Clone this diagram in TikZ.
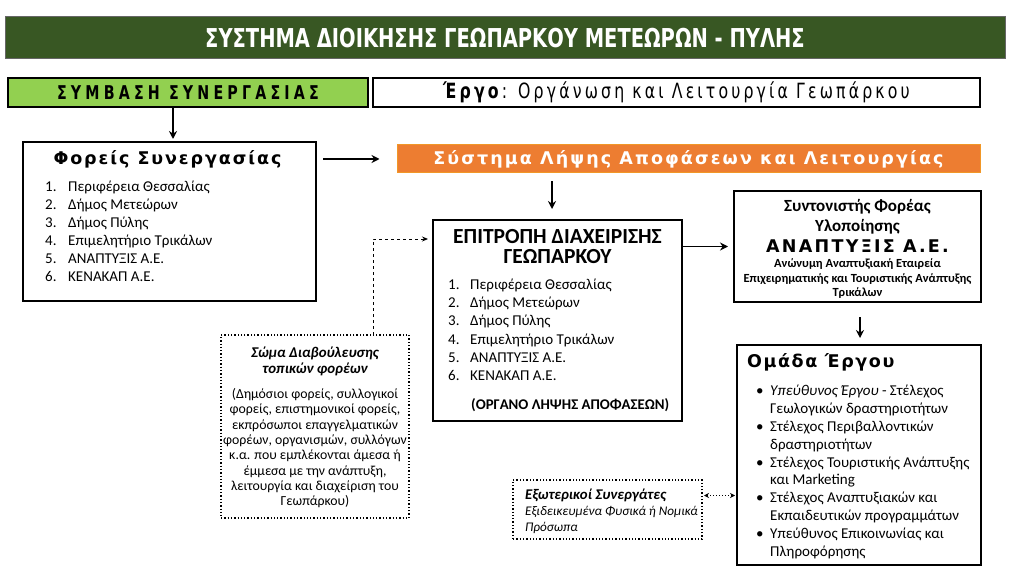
\documentclass[tikz,border=0pt]{standalone}
\usepackage{fontspec}
\setmainfont{Carlito}
\newfontfamily\headfont[LetterSpace=11]{DejaVu Sans}
\newfontfamily\condfont[FakeStretch=0.75]{DejaVu Sans}
\usetikzlibrary{arrows.meta}
\definecolor{darkgreen}{RGB}{56,87,35}
\definecolor{lightgreen}{RGB}{146,208,80}
\definecolor{orangebar}{RGB}{237,125,49}
\begin{document}
\begin{tikzpicture}[x=1pt,y=-1pt,
  box/.style={draw=black,line width=1.4pt,inner sep=0pt,outer sep=0pt},
  dotbox/.style={draw=black,dotted,line width=1.3pt,inner sep=0pt,outer sep=0pt},
  txt/.style={inner sep=0pt,font=\fontsize{15}{18}\selectfont},
  small/.style={inner sep=0pt,font=\fontsize{13.8}{15}\selectfont},
  arr/.style={line width=1.6pt,-{Stealth[length=8pt,width=8pt]}}]
\useasboundingbox (0,0) rectangle (1010,572);
% top bars
\node[box,draw=black!60,line width=1pt,fill=darkgreen,minimum width=1000,minimum height=42] (title) at (505,38)
  {\condfont\bfseries\fontsize{26}{26}\selectfont\color{white}ΣΥΣΤΗΜΑ ΔΙΟΙΚΗΣΗΣ ΓΕΩΠΑΡΚΟΥ ΜΕΤΕΩΡΩΝ - ΠΥΛΗΣ};
\node[box,fill=lightgreen,minimum width=360,minimum height=29] (symb) at (188,92.5)
  {\condfont\bfseries\addfontfeatures{LetterSpace=22}\fontsize{19}{16}\selectfont ΣΥΜΒΑΣΗ ΣΥΝΕΡΓΑΣΙΑΣ};
\node[box,minimum width=607,minimum height=29] (ergo) at (676.5,92.5)
  {\condfont\addfontfeatures{LetterSpace=15}\fontsize{21}{18}\selectfont\textbf{Έργο}: Οργάνωση και Λειτουργία Γεωπάρκου};
\node[fill=orangebar,draw=orangebar!80!yellow,line width=1pt,minimum width=583,minimum height=28,inner sep=0pt] (syst) at (688.5,159)
  {\headfont\bfseries\addfontfeatures{LetterSpace=12}\fontsize{17.5}{16}\selectfont\color{white}Σύστημα Λήψης Αποφάσεων και Λειτουργίας};
% Foreis
\node[box,minimum width=293,minimum height=159] (foreis) at (169.5,221.5) {};
\node[inner sep=0pt,anchor=base] (foreist) at (167.5,164.5) {\headfont\bfseries\fontsize{17.5}{15}\selectfont Φορείς Συνεργασίας};
\node[txt,anchor=base west] (fl1) at (45,192) {\makebox[23pt][l]{1.}Περιφέρεια Θεσσαλίας};
\node[txt,anchor=base west] (fl2) at (45,210) {\makebox[23pt][l]{2.}Δήμος Μετεώρων};
\node[txt,anchor=base west] (fl3) at (45,228) {\makebox[23pt][l]{3.}Δήμος Πύλης};
\node[txt,anchor=base west] (fl4) at (45,246) {\makebox[23pt][l]{4.}Επιμελητήριο Τρικάλων};
\node[txt,anchor=base west] (fl5) at (45,264) {\makebox[23pt][l]{5.}ΑΝΑΠΤΥΞΙΣ Α.Ε.};
\node[txt,anchor=base west] (fl6) at (45,282) {\makebox[23pt][l]{6.}ΚΕΝΑΚΑΠ Α.Ε.};
% Epitropi
\node[box,minimum width=249,minimum height=201] (epitr) at (557.5,320.5) {};
\node[inner sep=0pt,anchor=base,font=\bfseries\fontsize{21.5}{21}\selectfont] (et1) at (557.5,243.5) {ΕΠΙΤΡΟΠΗ ΔΙΑΧΕΙΡΙΣΗΣ};
\node[inner sep=0pt,anchor=base,font=\bfseries\fontsize{21.5}{21}\selectfont] (et2) at (557.5,264) {ΓΕΩΠΑΡΚΟΥ};
\node[txt,anchor=base west] (el1) at (448,290) {\makebox[22pt][l]{1.}Περιφέρεια Θεσσαλίας};
\node[txt,anchor=base west] (el2) at (448,308) {\makebox[22pt][l]{2.}Δήμος Μετεώρων};
\node[txt,anchor=base west] (el3) at (448,326) {\makebox[22pt][l]{3.}Δήμος Πύλης};
\node[txt,anchor=base west] (el4) at (448,344) {\makebox[22pt][l]{4.}Επιμελητήριο Τρικάλων};
\node[txt,anchor=base west] (el5) at (448,362) {\makebox[22pt][l]{5.}ΑΝΑΠΤΥΞΙΣ Α.Ε.};
\node[txt,anchor=base west] (el6) at (448,380) {\makebox[22pt][l]{6.}ΚΕΝΑΚΑΠ Α.Ε.};
\node[txt,anchor=base west,font=\bfseries\fontsize{14.8}{16}\selectfont] (eorg) at (471,409.5) {(ΟΡΓΑΝΟ ΛΗΨΗΣ ΑΠΟΦΑΣΕΩΝ)};
% Syntonistis
\node[box,minimum width=247,minimum height=111] (foreas) at (857.5,246.5) {};
\node[inner sep=0pt,anchor=base,font=\bfseries\fontsize{17}{16}\selectfont] (fs1) at (857.5,211.5) {Συντονιστής Φορέας};
\node[inner sep=0pt,anchor=base,font=\bfseries\fontsize{17}{16}\selectfont] (fs2) at (857.5,231.5) {Υλοποίησης};
\node[inner sep=0pt,anchor=base] (fs3) at (857.5,252.5) {\headfont\bfseries\addfontfeatures{LetterSpace=13}\fontsize{17.5}{16}\selectfont ΑΝΑΠΤΥΞΙΣ Α.Ε.};
\node[inner sep=0pt,anchor=base,font=\bfseries\fontsize{12.4}{12}\selectfont] (fs4) at (857.5,268) {Ανώνυμη Αναπτυξιακή Εταιρεία};
\node[inner sep=0pt,anchor=base,font=\bfseries\fontsize{12.4}{12}\selectfont] (fs5) at (857.5,282.5) {Επιχειρηματικής και Τουριστικής Ανάπτυξης};
\node[inner sep=0pt,anchor=base,font=\bfseries\fontsize{12.4}{12}\selectfont] (fs6) at (857.5,297) {Τρικάλων};
% Omada Ergou
\node[box,minimum width=244,minimum height=220] (team) at (859,455) {};
\node[inner sep=0pt,anchor=base west] (teamt) at (747,367.5) {\headfont\bfseries\addfontfeatures{LetterSpace=9}\fontsize{17.5}{16}\selectfont Ομάδα Έργου};
\node[txt,anchor=base west] (t1) at (756,395) {\makebox[14pt][l]{•}\textit{Υπεύθυνος Έργου} - Στέλεχος};
\node[txt,anchor=base west] (t1b) at (770,413) {Γεωλογικών δραστηριοτήτων};
\node[txt,anchor=base west] (t2) at (756,431) {\makebox[14pt][l]{•}Στέλεχος Περιβαλλοντικών};
\node[txt,anchor=base west] (t2b) at (770,449) {δραστηριοτήτων};
\node[txt,anchor=base west] (t3) at (756,467) {\makebox[14pt][l]{•}Στέλεχος Τουριστικής Ανάπτυξης};
\node[txt,anchor=base west] (t3b) at (770,484.5) {και Marketing};
\node[txt,anchor=base west] (t4) at (756,502.5) {\makebox[14pt][l]{•}Στέλεχος Αναπτυξιακών και};
\node[txt,anchor=base west] (t4b) at (770,520.5) {Εκπαιδευτικών προγραμμάτων};
\node[txt,anchor=base west] (t5) at (756,538) {\makebox[14pt][l]{•}Υπεύθυνος Επικοινωνίας και};
\node[txt,anchor=base west] (t5b) at (770,556) {Πληροφόρησης};
% Diavoulefsi
\node[dotbox,minimum width=188,minimum height=183] (diab) at (315,426.5) {};
\node[inner sep=0pt,anchor=base,font=\bfseries\itshape\fontsize{14.9}{16}\selectfont] (dt1) at (315,357) {Σώμα Διαβούλευσης};
\node[inner sep=0pt,anchor=base,font=\bfseries\itshape\fontsize{14.9}{16}\selectfont] (dt2) at (315,373) {τοπικών φορέων};
\node[small,anchor=base] (d1) at (315,398.5) {(Δημόσιοι φορείς, συλλογικοί};
\node[small,anchor=base] (d2) at (315,413.8) {φορείς, επιστημονικοί φορείς,};
\node[small,anchor=base] (d3) at (315,429.1) {εκπρόσωποι επαγγελματικών};
\node[small,anchor=base] (d4) at (315,444.4) {φορέων, οργανισμών, συλλόγων};
\node[small,anchor=base] (d5) at (315,459.7) {κ.α. που εμπλέκονται άμεσα ή};
\node[small,anchor=base] (d6) at (315,475) {έμμεσα με την ανάπτυξη,};
\node[small,anchor=base] (d7) at (315,490.3) {λειτουργία και διαχείριση του};
\node[small,anchor=base] (d8) at (315,505.6) {Γεωπάρκου)};
% Exoterikoi
\node[dotbox,minimum width=189,minimum height=59] (ext) at (607.5,509.5) {};
\node[inner sep=0pt,anchor=base west,font=\bfseries\itshape\fontsize{14.8}{14}\selectfont] (x1) at (525,499.5) {Εξωτερικοί Συνεργάτες};
\node[small,anchor=base west,font=\itshape\fontsize{13.2}{14}\selectfont] (x2) at (525,515.5) {Εξιδεικευμένα Φυσικά ή Νομικά};
\node[small,anchor=base west,font=\itshape\fontsize{13.2}{14}\selectfont] (x3) at (525,531.5) {Πρόσωπα};
% arrows
\draw[arr,shorten <=1pt,shorten >=3pt] (symb.south -| 173,0) -- (foreis.north -| 173,0);
\draw[arr,shorten <=7pt,shorten >=17pt] (foreis.east |- syst.west) -- (syst.west);
\draw[arr,shorten <=8pt,shorten >=11pt] (syst.south -| 552,0) -- (epitr.north -| 552,0);
\draw[arr,shorten <=1pt,shorten >=6pt] (epitr.east |- foreas.west) -- (foreas.west);
\draw[arr,shorten <=15pt,shorten >=7pt] (foreas.south -| 860,0) -- (team.north -| 860,0);
\draw[dashed,line width=0.9pt,-{Stealth[length=6pt,width=5pt]}] ([xshift=-36pt]diab.north east) |- ([yshift=-19pt,xshift=-5pt]epitr.north west);
\draw[dotted,line width=1pt,{Stealth[length=5pt,width=5pt]}-{Stealth[length=5pt,width=5pt]}] ([xshift=2pt,yshift=14pt]ext.east) -- ([xshift=-2pt,yshift=14pt]ext.east -| team.west);
\end{tikzpicture}
\end{document}
